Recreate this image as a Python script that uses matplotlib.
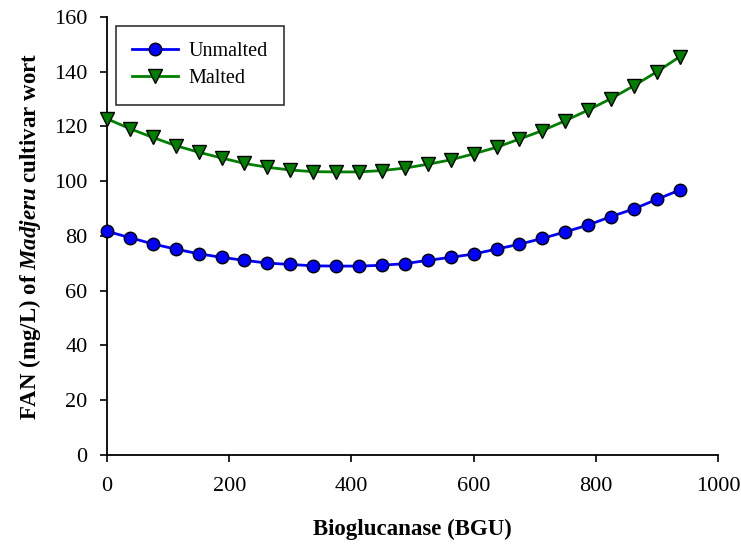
import matplotlib
matplotlib.use("Agg")
import matplotlib.pyplot as plt

plt.rcParams['font.family'] = ['Liberation Serif', 'DejaVu Serif']
plt.rcParams['mathtext.fontset'] = 'custom'
plt.rcParams['mathtext.rm'] = 'Liberation Serif'
plt.rcParams['mathtext.it'] = 'Liberation Serif:italic'
plt.rcParams['mathtext.bf'] = 'Liberation Serif:bold'
plt.rcParams['mathtext.bfit'] = 'Liberation Serif:italic:bold'

# enzyme dose (BGU)
dose = [i * 37.5 for i in range(26)]

# FAN values
unmalted = [81.7, 79.4, 77.1, 75.2, 73.5, 72.2, 71.1, 70.1, 69.6, 69.1, 69.0, 69.0, 69.3,
            69.9, 71.1, 72.2, 73.4, 75.2, 77.0, 79.1, 81.5, 84.0, 87.1, 89.9, 93.4, 96.8]
malted = [122.8, 119.2, 116.0, 113.0, 110.6, 108.5, 106.5, 105.1, 104.1, 103.5, 103.4, 103.4, 103.9,
          104.8, 106.2, 107.8, 110.0, 112.4, 115.4, 118.5, 122.1, 126.0, 130.2, 134.9, 140.0, 145.5]

xticks = [0, 200, 400, 600, 800, 1000]
yticks = [0, 20, 40, 60, 80, 100, 120, 140, 160]

fig = plt.figure(figsize=(7.41, 5.46), dpi=100)
ax = fig.add_axes([0.1444, 0.1667, 0.8246, 0.8022])

ax.plot(dose, unmalted, color='#0000ff', lw=2, marker='o', ms=9,
        mfc='#0000ff', mec='black', mew=1.0, label='Unmalted', clip_on=False, zorder=3)
ax.plot(dose, malted, color='#008000', lw=2, marker='v', ms=9.5,
        mfc='#008000', mec='black', mew=1.0, label='Malted', clip_on=False, zorder=3)

ax.set_xlim(0, 1000)
ax.set_ylim(0, 160)
ax.set_xticks(xticks)
ax.set_yticks(yticks)
ax.tick_params(direction='out', length=5, width=1.2, labelsize=16, pad=9)
ax.tick_params(axis='x', pad=11)
for s in ['top', 'right']:
    ax.spines[s].set_visible(False)
for s in ['left', 'bottom']:
    ax.spines[s].set_linewidth(1.3)

ax.set_xlabel('Bioglucanase (BGU)', fontsize=16.5, fontweight='bold', labelpad=16)
ax.set_ylabel(r'FAN (mg/L) of $\mathbfit{Madjeru}$ cultivar wort', fontsize=16.5,
              fontweight='bold', labelpad=8)

leg = ax.legend(loc='upper left', bbox_to_anchor=(0.0, 1.0), fontsize=14.5,
                frameon=True, fancybox=False, edgecolor='black', handlelength=2.3,
                handletextpad=0.5, borderpad=0.8, labelspacing=0.4, borderaxespad=0.45)
leg.get_frame().set_linewidth(1.2)

fig.savefig('out.png', dpi=100)
